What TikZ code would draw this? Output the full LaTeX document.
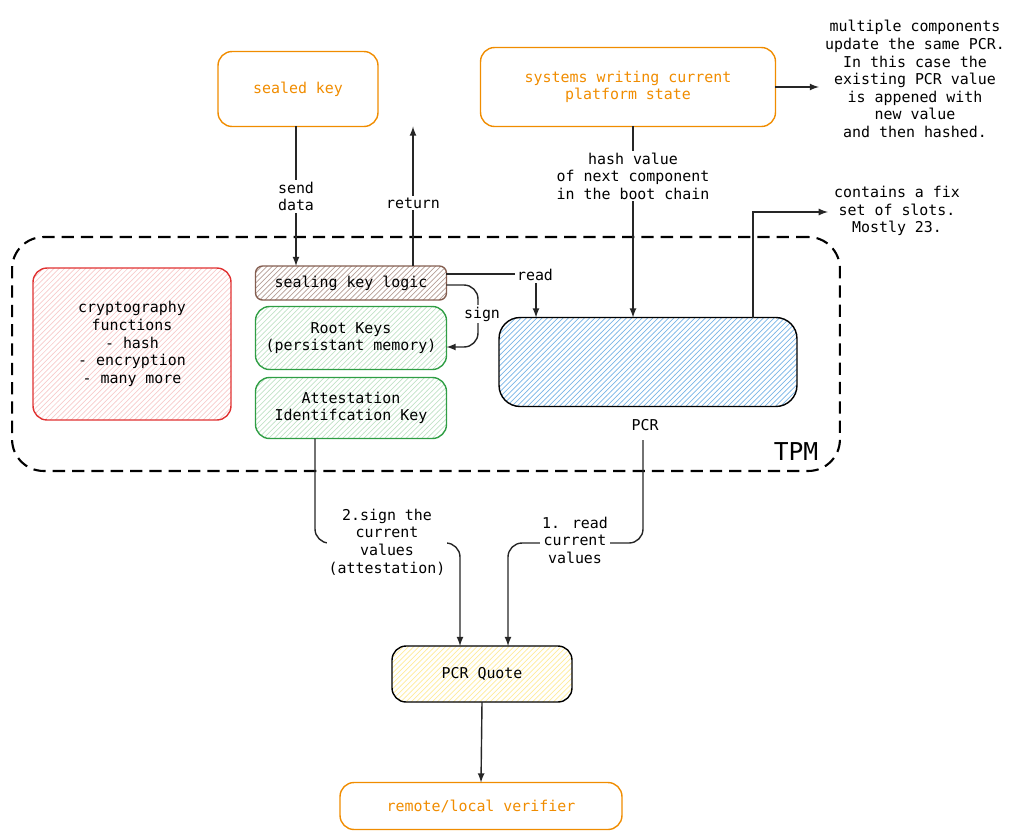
\documentclass[tikz,border=0pt]{standalone}
\usepackage{fontspec}
\setmainfont{DejaVu Sans Mono}
\usetikzlibrary{arrows,patterns}
\definecolor{skorange}{RGB}{240,140,0}
\definecolor{skred}{RGB}{224,49,49}
\definecolor{skgreen}{RGB}{47,158,68}
\definecolor{skbrown}{RGB}{132,94,80}
\definecolor{skblue}{RGB}{120,180,230}
\tikzset{
  box/.style={draw, rounded corners=8pt, thick, inner sep=0pt, outer sep=0pt, align=center},
  hatch/.style={box, pattern=north east lines, pattern color=#1},
  arr/.style={-latex, thick, draw=black!85},
  lbl/.style={fill=white, inner sep=1pt, align=center}
}
\begin{document}
\begin{tikzpicture}[x=0.02cm,y=-0.02cm,font=\fontsize{8.5}{10}\selectfont]
        \useasboundingbox (0,0) rectangle (1023,839);

        % boxes
        \node[box, draw=skorange, text=skorange, minimum width=3.2cm, minimum height=1.5cm] (sk) at (298,89) {sealed key};
        \node[box, draw=skorange, text=skorange, minimum width=5.9cm, minimum height=1.58cm] (sys) at (628,87) {systems writing current\\platform state};
        \node[align=center] (note) at (915,79) {multiple components\\update the same PCR.\\In this case the\\existing PCR value\\is appened with\\new value\\and then hashed.};

        \node[box, dash pattern=on 7pt off 4pt, very thick, rounded corners=18pt, minimum width=16.56cm, minimum height=4.68cm] (tpm) at (426,354) {};
        \node[font=\fontsize{14}{16}\selectfont] (tpmlbl) at (796,452) {TPM};

        \node[hatch=skred!25, draw=skred, minimum width=3.96cm, minimum height=3.04cm] (cry) at (132,344) {cryptography\\functions\\- hash\\- encryption\\- many more};
        \node[hatch=skbrown!60, draw=skbrown, rounded corners=4pt, minimum width=3.82cm, minimum height=0.68cm] (skl) at (351,283) {sealing key logic};
        \node[hatch=skgreen!30, draw=skgreen, minimum width=3.82cm, minimum height=1.26cm] (root) at (351,338) {Root Keys\\(persistant memory)};
        \node[hatch=skgreen!30, draw=skgreen, minimum width=3.82cm, minimum height=1.22cm] (aik) at (351,408) {Attestation\\Identifcation Key};

        \node[hatch=skblue, draw=black, rounded corners=12pt, minimum width=5.96cm, minimum height=1.78cm,
              path picture={\foreach \x in {505,539,575,609,641,672,702,729}
                \draw[thick] (\x,300) -- (\x,420);}] (pcr) at (648,362) {};
        \node (pcrlbl) at (645,425) {PCR};
        \node[align=center] (slots) at (897,211) {contains a fix\\set of slots.\\Mostly 23.};

        \node[hatch=yellow!60!orange!40, draw=black, minimum width=3.6cm, minimum height=1.12cm] (quote) at (482,674) {PCR Quote};
        \node[box, draw=skorange, text=skorange, minimum width=5.64cm, minimum height=0.94cm] (ver) at (481,806) {remote/local verifier};

        % connectors
        \draw[arr] (sys.east) -- (note.west |- sys.east);
        \draw[arr] (296,0 |- sk.south) -- (296,0 |- skl.north) node[pos=.5, lbl] {send\\data};
        \draw[arr] (413,0 |- skl.north) -- (413,0 |- sk.south) node[pos=.45, lbl] {return};
        \draw[arr] (633,0 |- sys.south) -- (633,0 |- pcr.north) node[pos=.26, lbl] {hash value\\of next component\\in the boot chain};
        \draw[arr] (skl.east |- 0,274) -- (536,274) -- (536,0 |- pcr.north);
        \node[lbl] (readlbl) at (535,275) {read};
        \draw[arr, rounded corners=8pt] (skl.east |- 0,285) -- (478,285) -- (478,347) -- (root.east |- 0,347);
        \node[lbl] (signlbl) at (482,314) {sign};
        \draw[arr] (753,0 |- pcr.north) -- (753,212) -- (slots.west |- 0,212);

        \draw[arr, rounded corners=8pt] (315,0 |- aik.south) -- (315,543) -- (460,543) -- (460,0 |- quote.north);
        \node[lbl] (signq) at (387,542) {2.sign the\\current\\values\\(attestation)};
        \draw[arr, rounded corners=8pt] (643,440) -- (643,543) -- (508,543) -- (508,0 |- quote.north);
        \node[lbl] (readq) at (575,540) {1. read\\current\\values};
        \draw[arr] (quote.south) -- (ver.north);
\end{tikzpicture}
\end{document}
